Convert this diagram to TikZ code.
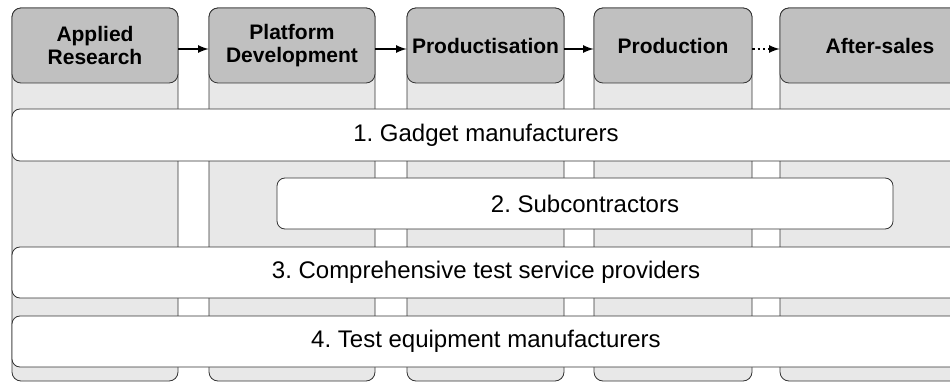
\documentclass[tikz,border=0pt]{standalone}
\usepackage{fontspec}
\setmainfont{Liberation Sans}
\usepackage{tikz}
\usetikzlibrary{arrows}
\definecolor{headgray}{HTML}{C0C0C0}
\definecolor{lanegray}{HTML}{E8E8E8}
\definecolor{edgegray}{HTML}{333333}
\frenchspacing

\begin{document}
\begin{tikzpicture}[x=1pt, y=-1pt,
  lane/.style={rectangle, rounded corners=9pt, draw=edgegray, line width=0.8pt, fill=lanegray, inner sep=0pt, minimum height=373pt},
  phase/.style={rectangle, rounded corners=9pt, draw=edgegray, line width=0.8pt, fill=headgray, inner sep=0pt, minimum height=75pt, align=center, font=\bfseries\fontsize{21}{23}\selectfont},
  group/.style={rectangle, rounded corners=8pt, draw=edgegray, line width=0.8pt, fill=white, inner sep=0pt, minimum height=51pt, font=\fontsize{24}{26}\selectfont},
  flow/.style={-latex, line width=2.6pt, draw=black}]
\useasboundingbox (0,0) rectangle (950,382);
\clip (0,0) rectangle (950,382);
% lanes behind the phases
\node [lane, minimum width=166pt] (L1) at (95, 194.5) {};
\node [lane, minimum width=166pt] (L2) at (292, 194.5) {};
\node [lane, minimum width=157pt] (L3) at (485.5, 194.5) {};
\node [lane, minimum width=158pt] (L4) at (673, 194.5) {};
\node [lane, minimum width=200pt] (L5) at (880, 194.5) {};
% phases
\node [phase, minimum width=166pt] (AR) at (95, 45.5) {Applied\\Research};
\node [phase, minimum width=166pt] (PD) at (292, 45.5) {Platform\\Development};
\node [phase, minimum width=157pt] (PS) at (485.5, 45.5) {Productisation};
\node [phase, minimum width=158pt] (PR) at (673, 45.5) {Production};
\node [phase, minimum width=200pt] (AS) at (880, 45.5) {After-sales};
% actor groups
\node [group, minimum width=948pt, minimum height=52pt] (G1) at (486, 135) {1. Gadget manufacturers};
\node [group, minimum width=616pt] (G2) at (585, 203.5) {2. Subcontractors};
\node [group, minimum width=948pt] (G3) at (486, 272.5) {3. Comprehensive test service providers};
\node [group, minimum width=948pt] (G4) at (486, 341.5) {4. Test equipment manufacturers};
% arrows sit a bit below the phase centres
\draw [flow] ([yshift=-3.5pt]AR.east) to ([yshift=-3.5pt]PD.west);
\draw [flow] ([yshift=-3.5pt]PD.east) to ([yshift=-3.5pt]PS.west);
\draw [flow] ([yshift=-3.5pt]PS.east) to ([yshift=-3.5pt]PR.west);
\draw [flow, dash pattern=on 2.6pt off 2.6pt] ([yshift=-3.5pt]PR.east) to ([yshift=-3.5pt]AS.west);
\end{tikzpicture}
\end{document}
